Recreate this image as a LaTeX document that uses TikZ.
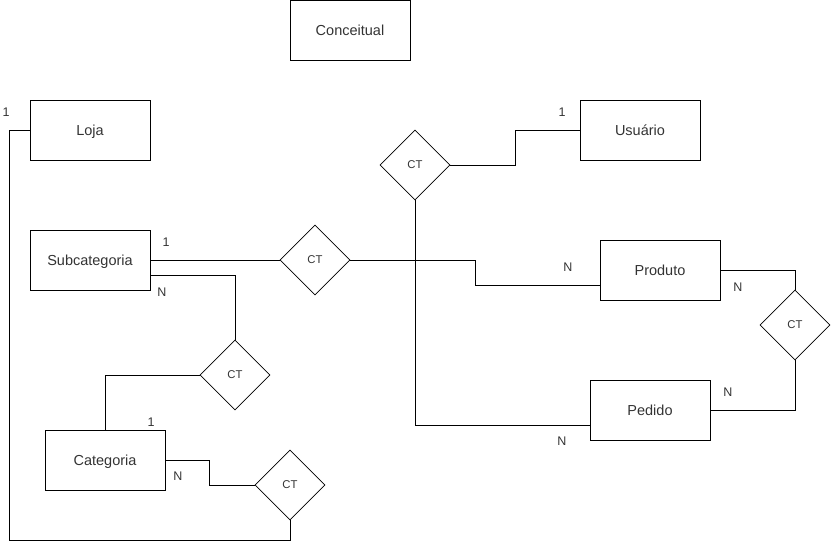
\documentclass[tikz,border=0pt]{standalone}
\usepackage{fontspec}
\setmainfont{Liberation Sans}
\usetikzlibrary{shapes.geometric}
\tikzset{
	ent/.style={draw=black, line width=1pt, minimum width=120pt, minimum height=60pt, inner sep=0pt, text height=10.4pt, text depth=0pt, text=black!80, font=\fontsize{14.5}{16}\selectfont},
	rel/.style={diamond, draw=black, line width=0.8pt, minimum width=70pt, minimum height=70pt, inner sep=0pt, text=black!80, font=\fontsize{11.3}{13}\selectfont},
	card/.style={inner sep=0pt, text=black!80, font=\fontsize{12.5}{14}\selectfont}
}

\begin{document}
\begin{tikzpicture}[x=1pt,y=-1pt,line width=1pt]
	\useasboundingbox (0,0) rectangle (831,542);
	\node[ent] (conc) at (350,30) {Conceitual};
	\node[ent] (loja) at (90,130) {Loja};
	\node[ent] (usr) at (640,130) {Usuário};
	\node[ent] (sub) at (90,260) {Subcategoria};
	\node[ent] (prod) at (660,270) {Produto};
	\node[ent] (ped) at (650,410) {Pedido};
	\node[ent] (cat) at (105,460) {Categoria};
	\node[rel] (ct1) at (415,165) {CT};
	\node[rel] (ct2) at (315,260) {CT};
	\node[rel] (ct3) at (795,325) {CT};
	\node[rel] (ct4) at (235,375) {CT};
	\node[rel] (ct5) at (290,485) {CT};
	\draw (loja.west) -- ++(-20,0) |- ([yshift=-20pt]ct5.south) -- (ct5.south);
	\draw (ct5.west) -- ++(-45,0) |- (cat.east);
	\draw (cat.north) |- (ct4.west);
	\draw (ct4.north) |- ([yshift=-15pt]sub.east);
	\draw (sub.east) -- (ct2.west);
	\draw (ct2.east) -- ++(125,0) |- ([yshift=-15pt]prod.west);
	\draw (ct1.south) |- ([yshift=-15pt]ped.west);
	\draw (ct1.east) -- ++(65,0) |- (usr.west);
	\draw (prod.east) -| (ct3.north);
	\draw (ct3.south) |- (ped.east);
	\node[card] (c1) at (6,112) {1};
	\node[card] (c2) at (562,112) {1};
	\node[card] (c3) at (166,242) {1};
	\node[card] (c4) at (162,292) {N};
	\node[card] (c5) at (568,267) {N};
	\node[card] (c6) at (738,287) {N};
	\node[card] (c7) at (728,392) {N};
	\node[card] (c8) at (562,441) {N};
	\node[card] (c9) at (151,422) {1};
	\node[card] (c10) at (178,476) {N};
\end{tikzpicture}
\end{document}
